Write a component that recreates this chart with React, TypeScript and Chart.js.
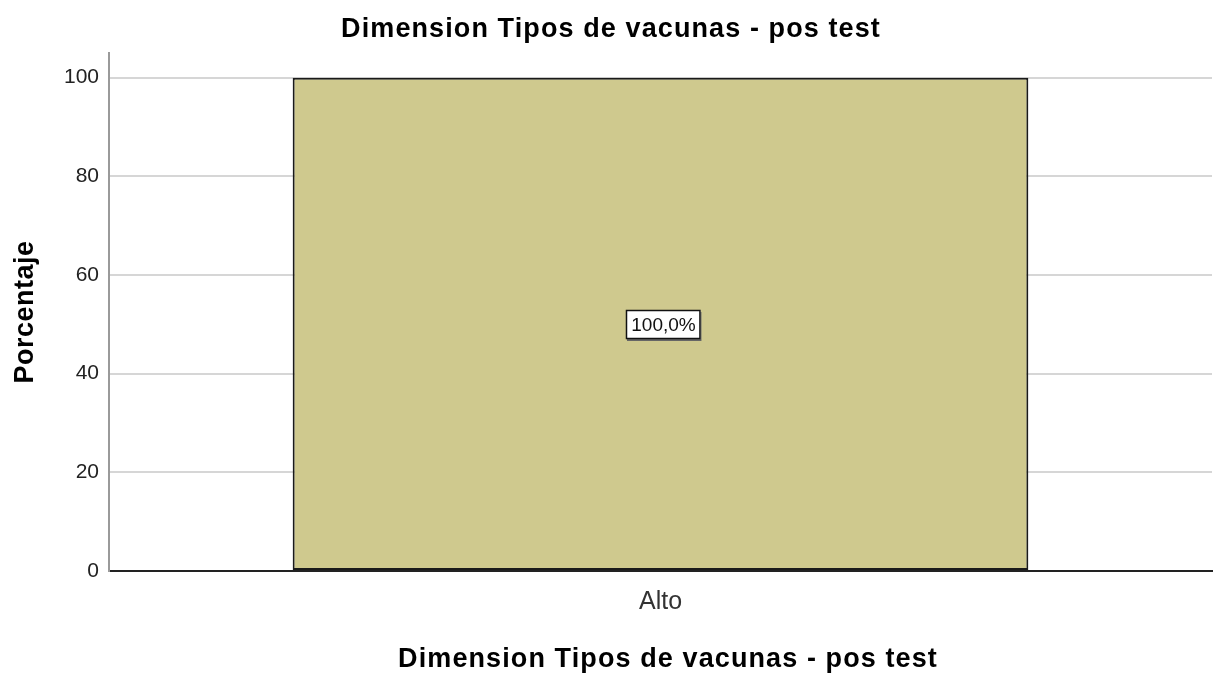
import React, { useEffect, useRef } from "react";
import { Chart, registerables } from "chart.js";

Chart.register(...registerables);

const chartTitle = "Dimension Tipos de vacunas - pos test";
const xAxisTitle = "Dimension Tipos de vacunas - pos test";
const yAxisTitle = "Porcentaje";
const categories = ["Alto"];
const percentages = [100];
const valueLabels = ["100,0%"];
const yTickValues = [0, 20, 40, 60, 80, 100];
const yMax = 105;

const FONT = '"Liberation Sans", Arial, sans-serif';

const textPlugin = {
  id: "spssText",
  afterDraw(chart: any) {
    const ctx = chart.ctx as CanvasRenderingContext2D;
    const area = chart.chartArea;
    const meta = chart.getDatasetMeta(0);
    meta.data.forEach((bar: any, i: number) => {
      const yScale = chart.scales.y;
      const cx = bar.x + 3;
      const cy = yScale.getPixelForValue(percentages[i] / 2);
      ctx.save();
      ctx.font = `19px ${FONT}`;
      const tw = ctx.measureText(valueLabels[i]).width;
      const w = tw + 10;
      const h = 29;
      const x0 = Math.round(cx - w / 2);
      const y0 = Math.round(cy - h / 2);
      ctx.fillStyle = "#666";
      ctx.fillRect(x0 + 1, y0 + 2, w, h);
      ctx.fillStyle = "#fff";
      ctx.fillRect(x0, y0, w, h);
      ctx.strokeStyle = "#111";
      ctx.lineWidth = 1.5;
      ctx.strokeRect(x0 + 0.5, y0 + 0.5, w - 1, h - 1);
      ctx.fillStyle = "#111";
      ctx.textAlign = "center";
      ctx.textBaseline = "middle";
      ctx.fillText(valueLabels[i], cx, cy + 1);
      ctx.restore();
    });

    ctx.save();
    ctx.fillStyle = "#000";
    ctx.textAlign = "center";
    ctx.textBaseline = "alphabetic";
    ctx.font = `bold 27px ${FONT}`;
    (ctx as any).letterSpacing = "1.1px";
    ctx.fillText(chartTitle, 611, 37);
    ctx.fillText(xAxisTitle, 668, 667);
    (ctx as any).letterSpacing = "0.5px";
    ctx.translate(33, (area.top + area.bottom) / 2);
    ctx.rotate(-Math.PI / 2);
    ctx.fillText(yAxisTitle, 0, 0);
    ctx.restore();
  },
};

export default function App() {
  const canvasRef = useRef<HTMLCanvasElement | null>(null);

  useEffect(() => {
    document.body.style.margin = "0";
    const canvas = canvasRef.current;
    if (!canvas) return;
    const chart = new Chart(canvas, {
      type: "bar",
      data: {
        labels: categories,
        datasets: [
          {
            data: percentages,
            backgroundColor: "#cfc98e",
            borderColor: "#1a1a1a",
            borderWidth: 2,
            borderSkipped: false,
            categoryPercentage: 1,
            barPercentage: 0.667,
          },
        ],
      },
      options: {
        animation: false,
        responsive: false,
        maintainAspectRatio: false,
        layout: { padding: { left: 0, right: 1, top: 53, bottom: 0 } },
        plugins: {
          legend: { display: false },
          tooltip: { enabled: false },
          title: { display: false },
        },
        scales: {
          x: {
            grid: { display: false },
            border: { display: true, color: "#222", width: 2 },
            ticks: {
              color: "#333",
              font: { family: FONT, size: 25 },
              padding: 8,
            },
            afterFit(scale: any) {
              scale.height = 102;
            },
          },
          y: {
            min: 0,
            max: yMax,
            grid: { color: "#d6d6d6", lineWidth: 2, drawTicks: false },
            border: { display: true, color: "#9a9a9a", width: 2 },
            ticks: {
              color: "#222",
              font: { family: FONT, size: 21 },
              padding: 10,
            },
            afterBuildTicks(scale: any) {
              scale.ticks = yTickValues.map((v) => ({ value: v }));
            },
            afterFit(scale: any) {
              scale.width = 109;
            },
          },
        },
      },
      plugins: [textPlugin],
    });
    return () => chart.destroy();
  }, []);

  return (
    <div style={{ width: 1213, height: 673 }}>
      <canvas ref={canvasRef} width={1213} height={673} style={{ display: "block" }} />
    </div>
  );
}
